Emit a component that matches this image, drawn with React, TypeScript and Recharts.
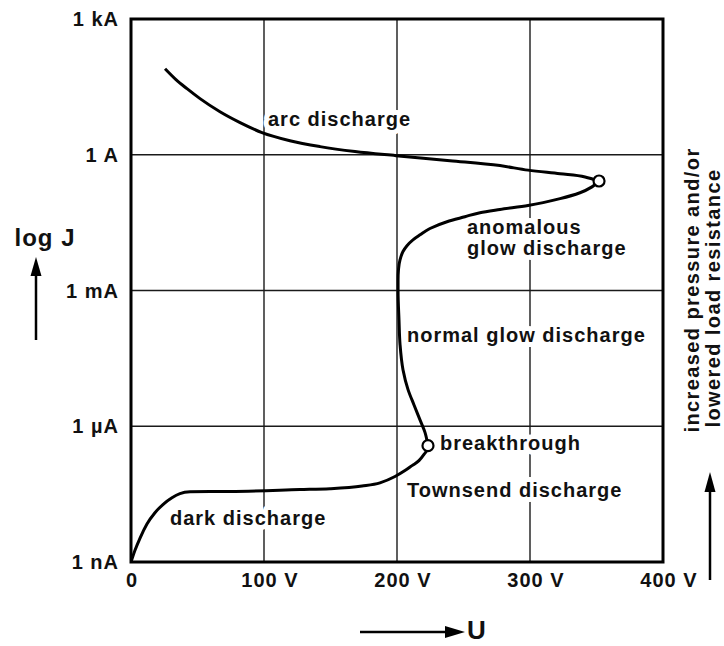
import React from "react";
import {
  ComposedChart,
  Line,
  Scatter,
  XAxis,
  YAxis,
  CartesianGrid,
  ReferenceArea,
  ReferenceDot,
  Customized,
} from "recharts";

// axis ticks: voltage U and log10 of current density J (in A)
const voltTicks = [0, 100, 200, 300, 400];
const voltLabels = ["0", "100 V", "200 V", "300 V", "400 V"];
const logTicks = [-9, -6, -3, 0, 3];
const currentLabels = ["1 nA", "1 µA", "1 mA", "1 A", "1 kA"];

// dark + Townsend discharge, up to breakthrough
const darkU = [
  0, 3, 6.8, 12, 18, 24, 30.8, 36.8, 44.4, 59.4, 74.4, 127, 149.6, 173.7, 187.2,
  198.5, 206, 211.3, 216.5, 220.3, 222.6, 223.3,
];
const darkLogJ = [
  -9, -8.74, -8.47, -8.16, -7.91, -7.73, -7.58, -7.49, -7.45, -7.44, -7.44, -7.4,
  -7.38, -7.32, -7.25, -7.11, -6.98, -6.87, -6.76, -6.62, -6.52, -6.43,
];

// normal + anomalous glow, from breakthrough to the arc transition
const glowU = [
  223.3, 221.1, 217.3, 212.8, 208.3, 204.5, 202.3, 201.5, 200.8, 200.8, 201.1,
  202.3, 204.5, 207.5, 212, 217.3, 224.8, 237.6, 251.1, 262.4, 277.4, 298.5,
  322.6, 337.6, 346.6, 351.9,
];
const glowLogJ = [
  -6.43, -6.14, -5.86, -5.53, -5.19, -4.75, -4.2, -3.65, -3.01, -2.76, -2.54,
  -2.32, -2.14, -2.01, -1.88, -1.77, -1.63, -1.48, -1.37, -1.28, -1.21, -1.12,
  -0.97, -0.84, -0.71, -0.58,
];

// arc discharge branch, low voltage end first
const arcU = [
  25.6, 33.8, 42.1, 51.9, 66.9, 82, 98.5, 119.5, 142.1, 168.4, 199.2, 239.8,
  277.4, 298.5, 322.6, 341.4, 351.9,
];
const arcLogJ = [
  1.9, 1.66, 1.46, 1.24, 0.95, 0.71, 0.49, 0.31, 0.18, 0.07, -0.02, -0.13, -0.24,
  -0.34, -0.42, -0.49, -0.58,
];

// open circles: breakthrough and glow-to-arc transition
const markerU = [223.3, 351.9];
const markerLogJ = [-6.43, -0.58];

const regionNames = [
  "arc discharge",
  "anomalous",
  "glow discharge",
  "normal glow discharge",
  "breakthrough",
  "Townsend discharge",
  "dark discharge",
];
const regionU = [103, 252.6, 252.6, 207.5, 232.3, 207.5, 29.3];
const regionLogJ = [0.79, -1.59, -2.05, -3.98, -6.38, -7.4, -8.02];

const toPoints = (us: number[], ls: number[]) => us.map((u, i) => ({ u, logJ: ls[i] }));
const darkData = toPoints(darkU, darkLogJ);
const glowData = toPoints(glowU, glowLogJ);
const arcData = toPoints(arcU, arcLogJ);
const markerData = toPoints(markerU, markerLogJ);

const FONT = "'Liberation Sans', Arial, Helvetica, sans-serif";

const textStyle = {
  fontFamily: FONT,
  fontWeight: 700,
  fontSize: 20,
  letterSpacing: 1,
  fill: "#111",
};

function CurrentTick(props: any) {
  const { x, y, payload } = props;
  const label = currentLabels[logTicks.indexOf(payload.value)];
  return (
    <text x={x - 12} y={y} textAnchor="end" dominantBaseline="central" style={textStyle}>
      {label}
    </text>
  );
}

function VoltTick(props: any) {
  const { x, y, payload } = props;
  const label = voltLabels[voltTicks.indexOf(payload.value)];
  return (
    <text
      x={payload.value === 0 ? x + 1 : x + 6}
      y={y + 18}
      textAnchor="middle"
      dominantBaseline="central"
      style={textStyle}
    >
      {label}
    </text>
  );
}

function RegionText({ viewBox, text }: any) {
  if (!viewBox) return null;
  const x = viewBox.x + viewBox.width / 2;
  const y = viewBox.y + viewBox.height / 2;
  return (
    <text
      x={x}
      y={y}
      dominantBaseline="central"
      style={{ ...textStyle, paintOrder: "stroke" }}
      stroke="#fff"
      strokeWidth={10}
      strokeLinejoin="round"
    >
      {text}
    </text>
  );
}

function Ring(props: any) {
  const { cx, cy } = props;
  return <circle cx={cx} cy={cy} r={5.5} fill="#fff" stroke="#000" strokeWidth={2.2} />;
}

// axis captions and arrows outside the plot
function Annotations() {
  return (
    <g>
      <text x={45} y={237} textAnchor="middle" dominantBaseline="central" style={{ ...textStyle, fontSize: 24 }}>
        log J
      </text>
      <line x1={36} y1={340} x2={36} y2={270} stroke="#000" strokeWidth={2.5} />
      <polygon points="36,257 30.5,276 41.5,276" fill="#000" />

      <line x1={360} y1={632} x2={450} y2={632} stroke="#000" strokeWidth={2.5} />
      <polygon points="465,632 445,626 445,638" fill="#000" />
      <text x={477} y={630} textAnchor="middle" dominantBaseline="central" style={{ ...textStyle, fontSize: 26 }}>
        U
      </text>

      <text
        transform="translate(692,290) rotate(-90)"
        textAnchor="middle"
        dominantBaseline="central"
        style={{ ...textStyle, letterSpacing: 1.4 }}
      >
        increased pressure and/or
      </text>
      <text
        transform="translate(713,298) rotate(-90)"
        textAnchor="middle"
        dominantBaseline="central"
        style={{ ...textStyle, letterSpacing: 1.4 }}
      >
        lowered load resistance
      </text>
      <line x1={710} y1={580} x2={710} y2={488} stroke="#000" strokeWidth={2.5} />
      <polygon points="710,472 704.5,492 715.5,492" fill="#000" />
    </g>
  );
}

const curveProps = {
  dataKey: "logJ",
  stroke: "#000",
  strokeWidth: 3,
  dot: false,
  activeDot: false,
  isAnimationActive: false,
} as const;

export default function App() {
  return (
    <div style={{ position: "absolute", left: 0, top: 0, width: 724, height: 646, background: "#fff" }}>
      <ComposedChart width={724} height={646} margin={{ top: 19, right: 61, bottom: 54, left: 61 }}>
        <CartesianGrid stroke="#1a1a1a" strokeWidth={1.4} />
        <XAxis
          type="number"
          dataKey="u"
          domain={[0, 400]}
          ticks={voltTicks}
          axisLine={false}
          tickLine={false}
          tickSize={0}
          tickMargin={0}
          height={30}
          tick={<VoltTick />}
          allowDataOverflow
        />
        <YAxis
          type="number"
          dataKey="logJ"
          domain={[-9, 3]}
          ticks={logTicks}
          axisLine={false}
          tickLine={false}
          tickSize={0}
          tickMargin={0}
          width={70}
          tick={<CurrentTick />}
          allowDataOverflow
        />
        <ReferenceArea x1={0} x2={400} y1={-9} y2={3} fill="none" stroke="#000" strokeWidth={3} />
        {regionNames.map((name, i) => (
          <ReferenceDot
            key={name}
            x={regionU[i]}
            y={regionLogJ[i]}
            r={1}
            fill="none"
            stroke="none"
            ifOverflow="visible"
            label={(p: any) => <RegionText viewBox={p.viewBox} text={name} />}
          />
        ))}
        <Line data={darkData} type="monotoneX" {...curveProps} />
        <Line data={glowData} type="monotoneY" {...curveProps} />
        <Line data={arcData} type="monotoneX" {...curveProps} />
        <Scatter data={markerData} dataKey="logJ" shape={<Ring />} isAnimationActive={false} />
        <Customized component={Annotations} />
      </ComposedChart>
    </div>
  );
}
